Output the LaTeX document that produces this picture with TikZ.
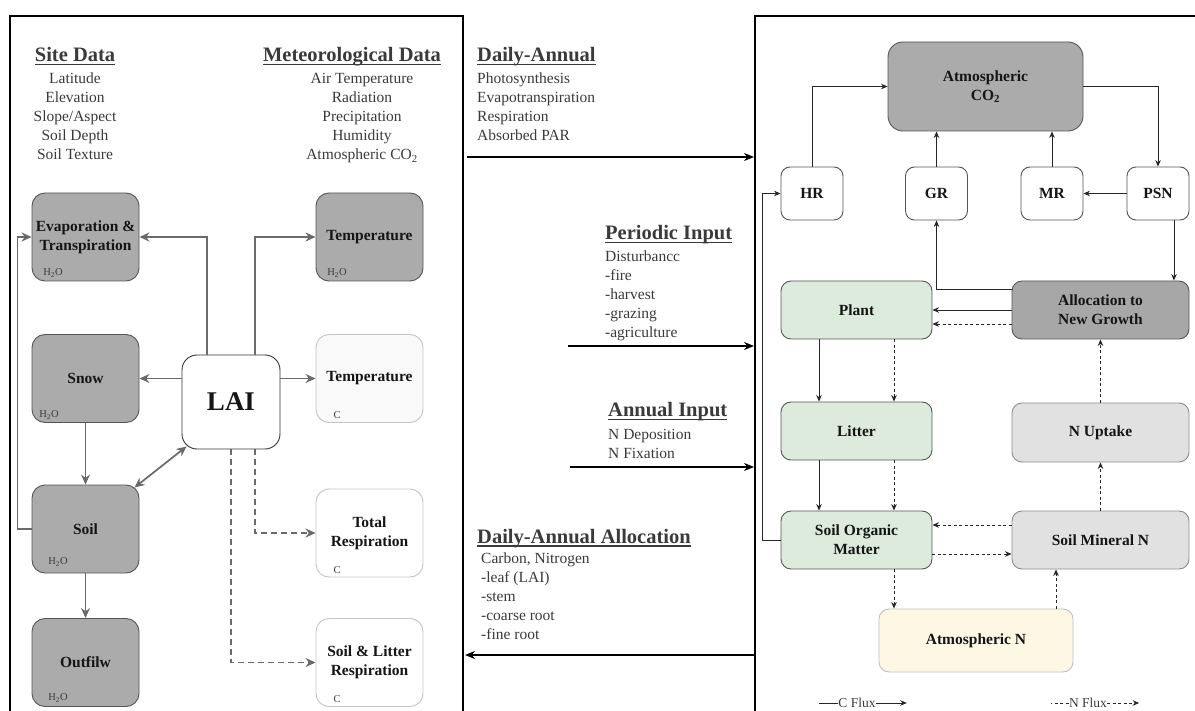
\documentclass[tikz,border=0pt]{standalone}
\usepackage{fontspec}
\setmainfont{Liberation Serif}
\usetikzlibrary{arrows.meta}
\definecolor{txtgray}{HTML}{3A3A3A}
\definecolor{lgray}{HTML}{ABABAB}
\definecolor{dgray}{HTML}{A7A7A7}
\definecolor{bordergray}{HTML}{555555}
\definecolor{arrowgray}{HTML}{6A6A6A}
\definecolor{palegray}{HTML}{F9F9F9}
\definecolor{paleborder}{HTML}{C4C4C4}
\definecolor{greenfill}{HTML}{DCEBDC}
\definecolor{nfill}{HTML}{E1E1E1}
\definecolor{yellowfill}{HTML}{FDF7E4}
\definecolor{labelblack}{HTML}{151515}
\newcommand\hul[1]{\setbox0=\hbox{#1}\rlap{\rule[-3.5pt]{\wd0}{1.3pt}}\box0}
\newcommand\lblfont{\fontsize{15.5}{19}\selectfont\bfseries}
\begin{document}
\begin{tikzpicture}[x=1pt,y=-1pt,
  panel/.style={draw=black, line width=1.6pt, minimum width=#1, minimum height=730pt, anchor=north west, inner sep=0},
  hdr/.style={text=txtgray, font=\fontsize{20.5}{24}\selectfont\bfseries, inner sep=0},
  itm/.style={text=txtgray, font=\fontsize{15.5}{19}\selectfont, inner sep=0},
  lbox/.style={draw=bordergray, line width=0.9pt, fill=lgray, rounded corners=13pt, minimum width=107pt, minimum height=88pt, inner sep=0, align=center, font=\lblfont, text=labelblack},
  sub/.style={text=txtgray, font=\fontsize{10.5}{12}\selectfont, inner sep=0},
  garrow/.style={draw=arrowgray, line width=1.7pt, -{Stealth[length=10pt,width=9pt]}},
  gdash/.style={garrow, dash pattern=on 6pt off 4pt},
  marrow/.style={draw=black, line width=1.5pt, -{Stealth[length=10pt,width=8pt]}},
  rbox/.style={draw=bordergray, line width=0.9pt, rounded corners=9pt, inner sep=0, align=center, font=\lblfont, text=labelblack},
  rarrow/.style={draw=black!85, line width=0.9pt, -{Stealth[length=6.5pt,width=5.5pt]}},
  rdash/.style={rarrow, dash pattern=on 3pt off 2.5pt},
  rline/.style={draw=black!85, line width=0.9pt},
  leg/.style={text=txtgray, font=\fontsize{13.5}{16}\selectfont, inner sep=0}
]
\useasboundingbox (0,0) rectangle (1195,711);
\clip (0,0) rectangle (1195,711);

% panels
\node[panel=453pt] (lpanel) at (9,15) {};
\node[panel=470pt] (rpanel) at (754,15) {};

% ---------- left panel texts ----------
\node[hdr, anchor=base] (sitehdr) at (75,61.5) {\hul{Site Data}};
\foreach \t [count=\i] in {Latitude, Elevation, Slope/Aspect, Soil Depth, Soil Texture}
  \node[itm, anchor=base] (site\i) at (75,65+19*\i) {\t};
\node[hdr, anchor=base] (methdr) at (352,61.5) {\hul{Meteorological Data}};
\foreach \t [count=\i] in {Air Temperature, Radiation, Precipitation, Humidity, {Atmospheric CO\textsubscript{2}}}
  \node[itm, anchor=base] (met\i) at (362,65+19*\i) {\t};

% ---------- left boxes ----------
\node[lbox] (evap) at (85.5,237) {Evaporation \&\\Transpiration};
\node[lbox] (tempw) at (369.5,237) {Temperature};
\node[lbox] (snow) at (85.5,378.5) {Snow};
\node[lbox, fill=palegray, draw=paleborder] (tempc) at (369.5,378.5) {Temperature};
\node[lbox] (soil) at (85.5,529) {Soil};
\node[lbox] (outf) at (85.5,662.5) {Outfilw};
\node[lbox, fill=white, draw=paleborder] (totr) at (369.5,533) {Total\\Respiration};
\node[lbox, fill=white, draw=paleborder] (slr) at (369.5,662.5) {Soil \& Litter\\Respiration};
\node[lbox, fill=white, draw=black!80, rounded corners=15pt, minimum width=98pt, minimum height=94pt, font=\fontsize{27}{30}\selectfont\bfseries] (lai) at (231,402) {LAI};

\node[sub] (evapsub) at (53,273) {H\textsubscript{2}O};
\node[sub] (tempwsub) at (337,273) {H\textsubscript{2}O};
\node[sub] (snowsub) at (49,415) {H\textsubscript{2}O};
\node[sub] (tempcsub) at (337,415) {C};
\node[sub] (soilsub) at (58,562) {H\textsubscript{2}O};
\node[sub] (outfsub) at (58,698) {H\textsubscript{2}O};
\node[sub] (totrsub) at (337,570) {C};
\node[sub] (slrsub) at (337,699) {C};

% ---------- left connectors ----------
\draw[garrow] ([xshift=-24pt]lai.north) |- (evap.east);
\draw[garrow] ([xshift=24pt]lai.north) |- (tempw.west);
\draw[garrow] (lai.west |- snow.east) -- (snow.east);
\draw[garrow] (lai.east |- tempc.west) -- (tempc.west);
\draw[garrow] (snow.south) -- (soil.north);
\draw[garrow, {Stealth[length=10pt,width=9pt]}-{Stealth[length=10pt,width=9pt]}] ([shift={(-5,3)}]soil.north east) -- ([shift={(5,-3)}]lai.south west);
\draw[garrow] (soil.west) -- ++(-14,0) |- (evap.west);
\draw[garrow] (soil.south) -- (outf.north);
\draw[gdash] ([xshift=24pt]lai.south) |- (totr.west);
\draw[gdash] (lai.south) |- (slr.west);

% ---------- middle ----------
\node[hdr, anchor=base west] (dahdr) at (477,61.5) {\hul{Daily-Annual}};
\foreach \t [count=\i] in {Photosynthesis, Evapotranspiration, Respiration, Absorbed PAR}
  \node[itm, anchor=base west] (da\i) at (477,65+19*\i) {\t};
\coordinate (dastart) at (467,157);
\draw[marrow] (dastart) -- (dastart -| rpanel.west);

\node[hdr, anchor=base west] (pihdr) at (605,240) {\hul{Periodic Input}};
\foreach \t [count=\i] in {Disturbancc, -fire, -harvest, -grazing, -agriculture}
  \node[itm, anchor=base west] (pi\i) at (605,243+19*\i) {\t};
\coordinate (pistart) at (568,346);
\draw[marrow] (pistart) -- (pistart -| rpanel.west);

\node[hdr, anchor=base west] (aihdr) at (608,417) {\hul{Annual Input}};
\foreach \t [count=\i] in {N Deposition, N Fixation}
  \node[itm, anchor=base west] (ai\i) at (608,420+19*\i) {\t};
\coordinate (aistart) at (570,467);
\draw[marrow] (aistart) -- (aistart -| rpanel.west);

\node[hdr, anchor=base west] (daahdr) at (477,543) {\hul{Daily-Annual Allocation}};
\foreach \t [count=\i] in {{Carbon, Nitrogen}, -leaf (LAI), -stem, -coarse root, -fine root}
  \node[itm, anchor=base west] (daa\i) at (481,544+19*\i) {\t};
\coordinate (daaend) at (465,655);
\draw[marrow] (daaend -| rpanel.west) -- (daaend);

% ---------- right boxes ----------
\node[rbox, fill=lgray, rounded corners=15pt, minimum width=195pt, minimum height=89pt] (co2) at (985.5,86.5) {Atmospheric\\CO\textsubscript{2}};
\node[rbox, fill=white, minimum width=62pt, minimum height=53pt] (hr) at (812,193.5) {HR};
\node[rbox, fill=white, minimum width=62pt, minimum height=53pt] (gr) at (936.5,193.5) {GR};
\node[rbox, fill=white, minimum width=62pt, minimum height=53pt] (mr) at (1052,193.5) {MR};
\node[rbox, fill=white, minimum width=62pt, minimum height=53pt] (psn) at (1158,193.5) {PSN};
\node[rbox, fill=dgray, rounded corners=10pt, minimum width=177pt, minimum height=58pt] (alloc) at (1100.5,310) {Allocation to\\New Growth};
\node[rbox, fill=greenfill, rounded corners=10pt, minimum width=151pt, minimum height=58pt] (plant) at (856.5,310) {Plant};
\node[rbox, fill=greenfill, rounded corners=10pt, minimum width=151pt, minimum height=58pt] (litter) at (856.5,431) {Litter};
\node[rbox, fill=nfill, draw=black!45, rounded corners=10pt, minimum width=177pt, minimum height=59pt] (nup) at (1100.5,432.5) {N Uptake};
\node[rbox, fill=greenfill, rounded corners=10pt, minimum width=151pt, minimum height=58pt] (som) at (856.5,540) {Soil Organic\\Matter};
\node[rbox, fill=nfill, draw=black!45, rounded corners=10pt, minimum width=177pt, minimum height=58pt] (smn) at (1100.5,540) {Soil Mineral N};
\node[rbox, fill=yellowfill, draw=black!25, rounded corners=10pt, minimum width=194pt, minimum height=63pt] (atmn) at (976,640.5) {Atmospheric N};

% ---------- right connectors ----------
\draw[rarrow] (hr.north) |- (co2.west);
\draw[rarrow] (gr.north) -- (gr.north |- co2.south);
\draw[rarrow] (mr.north) -- (mr.north |- co2.south);
\draw[rarrow] (co2.east) -| (psn.north);
\draw[rarrow] (psn.west) -- (mr.east);
\draw[rarrow] ([xshift=16pt]psn.south) -- ([xshift=16pt]psn.south |- alloc.north);
\draw[rarrow] ([yshift=21pt]alloc.west) -| (gr.south);
\draw[rarrow] (alloc.west) -- (plant.east);
\draw[rdash] ([yshift=-14pt]alloc.west) -- ([yshift=-14pt]plant.east);
\draw[rarrow] ([xshift=-37.5pt]plant.south) -- ([xshift=-37.5pt]litter.north);
\draw[rdash] ([xshift=37.5pt]plant.south) -- ([xshift=37.5pt]litter.north);
\draw[rarrow] ([xshift=-37.5pt]litter.south) -- ([xshift=-37.5pt]som.north);
\draw[rdash] ([xshift=37.5pt]litter.south) -- ([xshift=37.5pt]som.north);
\draw[rdash] (nup.north) -- (alloc.south);
\draw[rdash] (smn.north) -- (nup.south);
\draw[rdash] ([yshift=15pt]smn.west) -- ([yshift=15pt]som.east);
\draw[rdash] ([yshift=-14pt]som.east) -- ([yshift=-14pt]smn.west);
\draw[rdash] ([xshift=37.5pt]som.south) -- ([xshift=37.5pt]som.south |- atmn.north);
\draw[rdash] ([xshift=80pt]atmn.north) -- ([xshift=80pt]atmn.north |- smn.south);
\draw[rarrow] (som.west) -- ++(-18,0) |- (hr.west);

% ---------- legend ----------
\node[leg] (cflux) at (857,703) {C Flux};
\draw[rline] (cflux.west) -- ++(-19,0);
\draw[rarrow] (cflux.east) -- ++(31,0);
\node[leg] (nflux) at (1088,703) {N Flux};
\draw[rline, dash pattern=on 3pt off 2.5pt] (nflux.west) -- ++(-18,0);
\draw[rdash] (nflux.east) -- ++(32,0);
\end{tikzpicture}
\end{document}
